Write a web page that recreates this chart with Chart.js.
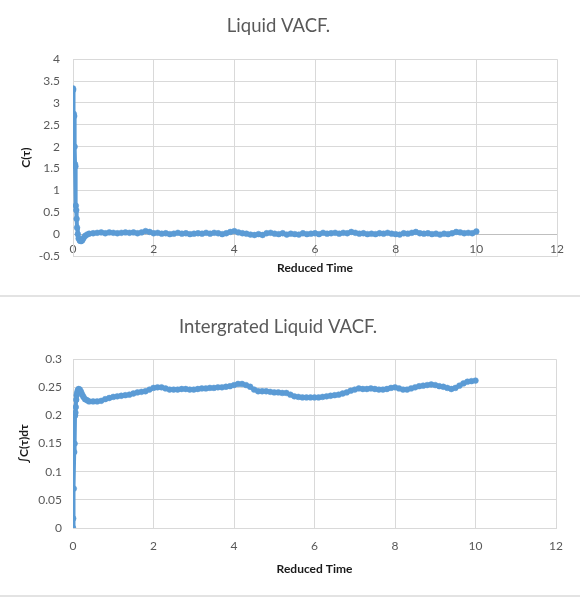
<!DOCTYPE html>
<html>
<head>
<meta charset="utf-8">
<title>Liquid VACF</title>
<script src="https://cdn.jsdelivr.net/npm/chart.js@4.4.1/dist/chart.umd.min.js"></script>
<style>
    body { margin: 0; background: #fff; width: 580px; height: 599px; overflow: hidden; }
    .box { width: 580px; border-bottom: 2px solid #e3e3e3; }
    #topBox { height: 295px; }
    #bottomBox { height: 298px; }
    canvas { display: block; }
</style>
</head>
<body>
<div class="box" id="topBox"><canvas id="vacfChart" width="580" height="295"></canvas></div>
<div class="box" id="bottomBox"><canvas id="integralChart" width="580" height="298"></canvas></div>

<script>
// reduced time (x) shared by both series
const times = [0, 0.005, 0.02, 0.03, 0.04, 0.05, 0.06, 0.07, 0.08, 0.09, 0.1, 0.12, 0.14, 0.17, 0.2, 0.23, 0.26, 0.3, 0.35, 0.4, 0.5,
    0.6, 0.7, 0.8, 0.9, 1.0, 1.1, 1.2, 1.3, 1.4, 1.5, 1.6, 1.7, 1.8, 1.9, 2.0,
    2.1, 2.2, 2.3, 2.4, 2.5, 2.6, 2.7, 2.8, 2.9, 3.0, 3.1, 3.2, 3.3, 3.4, 3.5,
    3.6, 3.7, 3.8, 3.9, 4.0, 4.1, 4.2, 4.3, 4.4, 4.5, 4.6, 4.7, 4.8, 4.9, 5.0,
    5.1, 5.2, 5.3, 5.4, 5.5, 5.6, 5.7, 5.8, 5.9, 6.0, 6.1, 6.2, 6.3, 6.4, 6.5,
    6.6, 6.7, 6.8, 6.9, 7.0, 7.1, 7.2, 7.3, 7.4, 7.5, 7.6, 7.7, 7.8, 7.9, 8.0,
    8.1, 8.2, 8.3, 8.4, 8.5, 8.6, 8.7, 8.8, 8.9, 9.0, 9.1, 9.2, 9.3, 9.4, 9.5,
    9.6, 9.7, 9.8, 9.9, 10.0];

// C(tau)
const vacf = [3.33, 3.30, 2.75, 2.70, 2.0, 1.60, 1.55, 0.65, 0.55, 0.35, 0.15, 0.0, -0.10, -0.15, -0.16, -0.14, -0.09, -0.04, -0.01, 0.01, 0.02,
    0.03, 0.04, 0.02, 0.04, 0.03, 0.02, 0.03, 0.04, 0.03, 0.04, 0.02, 0.04, 0.07, 0.05, 0.02,
    0.03, 0.01, 0.02, 0.00, 0.01, 0.03, 0.01, 0.02, 0.00, 0.01, 0.02, 0.01, 0.03, 0.01, 0.03,
    0.02, 0.00, 0.02, 0.05, 0.07, 0.04, 0.02, 0.01, -0.01, -0.02, 0.00, -0.02, 0.02, 0.03, 0.01,
    0.00, 0.02, -0.01, 0.01, 0.00, -0.01, 0.02, 0.00, 0.01, 0.02, 0.00, 0.03, 0.01, 0.02, 0.03,
    0.01, 0.03, 0.02, 0.05, 0.03, 0.01, 0.02, 0.00, 0.01, 0.00, 0.02, 0.01, 0.03, 0.01, 0.00,
    -0.01, 0.02, 0.01, 0.03, 0.05, 0.02, 0.01, 0.02, 0.00, 0.01, -0.01, 0.01, 0.00, 0.02, 0.05,
    0.04, 0.02, 0.03, 0.02, 0.06];

// integral of C(tau)
const integral = [0.0, 0.017, 0.07, 0.135, 0.15, 0.20, 0.205, 0.215, 0.228, 0.236, 0.24, 0.245, 0.247, 0.246, 0.242, 0.237, 0.233, 0.229, 0.227, 0.225, 0.225,
    0.225, 0.226, 0.229, 0.231, 0.233, 0.234, 0.235, 0.236, 0.237, 0.239, 0.241, 0.242, 0.243, 0.246, 0.249,
    0.250, 0.250, 0.248, 0.246, 0.246, 0.246, 0.247, 0.247, 0.246, 0.246, 0.247, 0.248, 0.248, 0.249, 0.249,
    0.250, 0.250, 0.251, 0.252, 0.254, 0.256, 0.256, 0.254, 0.251, 0.246, 0.243, 0.243, 0.243, 0.242, 0.241,
    0.241, 0.240, 0.240, 0.237, 0.234, 0.233, 0.232, 0.232, 0.232, 0.232, 0.232, 0.233, 0.234, 0.235, 0.236,
    0.237, 0.239, 0.241, 0.244, 0.246, 0.248, 0.247, 0.247, 0.248, 0.247, 0.246, 0.246, 0.247, 0.249, 0.250,
    0.248, 0.246, 0.246, 0.248, 0.250, 0.252, 0.253, 0.254, 0.255, 0.254, 0.252, 0.251, 0.249, 0.247, 0.249,
    0.253, 0.257, 0.260, 0.261, 0.262];

const timeTicks = ['0', '2', '4', '6', '8', '10', '12'];
const vacfTicks = ['-0.5', '0', '0.5', '1', '1.5', '2', '2.5', '3', '3.5', '4'];
const integralTicks = ['0', '0.05', '0.1', '0.15', '0.2', '0.25', '0.3'];

const blue = '#5B9BD5';
const gridColor = '#d9d9d9';
const tickColor = '#595959';
const fontName = 'Lato';

function points(ys) {
    return times.map(function(t, i) { return { x: t, y: ys[i] }; });
}

function tickSetter(labels) {
    return function(scale) {
        scale.ticks = labels.map(function(s) { return { value: parseFloat(s) }; });
    };
}

function dataset(ys) {
    return {
        data: points(ys),
        showLine: true,
        borderColor: blue,
        backgroundColor: blue,
        borderWidth: 4,
        pointRadius: 2.9,
        pointBorderWidth: 0.5,
        pointHoverRadius: 2.9
    };
}

function titleOpts(text, top, bottom) {
    return {
        display: true,
        text: text,
        color: tickColor,
        font: { family: fontName, size: 18.5, weight: 'normal' },
        padding: { top: top, bottom: bottom }
    };
}

// top chart: velocity autocorrelation
new Chart(document.getElementById('vacfChart'), {
    type: 'scatter',
    data: { datasets: [dataset(vacf)] },
    options: {
        responsive: false,
        animation: false,
        layout: { padding: { left: 0, right: 23, top: 0, bottom: 0 } },
        plugins: {
            legend: { display: false },
            tooltip: { enabled: false },
            title: titleOpts('Liquid VACF.', 15, 22)
        },
        scales: {
            x: {
                type: 'linear',
                min: 0,
                max: 12,
                afterBuildTicks: tickSetter(timeTicks),
                afterFit: function(scale) { scale.height = 39; },
                ticks: {
                    color: tickColor,
                    font: { family: fontName, size: 12 },
                    // mirrored: labels sit inside the plot, just under the zero line
                    mirror: true,
                    padding: 0,
                    maxRotation: 0,
                    callback: function(v, i) { return timeTicks[i]; }
                },
                grid: { color: gridColor, drawTicks: false },
                border: { color: gridColor },
                title: {
                    display: true,
                    text: 'Reduced Time',
                    color: '#1a1a1a',
                    font: { family: fontName, size: 12, weight: 'bold' },
                    padding: { top: 0, bottom: 20 }
                }
            },
            y: {
                min: -0.5,
                max: 4,
                afterBuildTicks: tickSetter(vacfTicks),
                afterFit: function(scale) { scale.width = 73; },
                ticks: {
                    color: tickColor,
                    font: { family: fontName, size: 12 },
                    padding: 13,
                    callback: function(v, i) { return vacfTicks[i]; }
                },
                grid: {
                    color: function(ctx) { return ctx.tick && ctx.tick.value === 0 ? '#bfbfbf' : gridColor; },
                    drawTicks: false
                },
                border: { color: gridColor },
                title: {
                    display: true,
                    text: 'C(τ)',
                    color: '#1a1a1a',
                    font: { family: fontName, size: 12, weight: 'bold' },
                    padding: { top: 19, bottom: 0 }
                }
            }
        }
    }
});

// bottom chart: running integral
new Chart(document.getElementById('integralChart'), {
    type: 'scatter',
    data: { datasets: [dataset(integral)] },
    options: {
        responsive: false,
        animation: false,
        layout: { padding: { left: 0, right: 24, top: 0, bottom: 0 } },
        plugins: {
            legend: { display: false },
            tooltip: { enabled: false },
            title: titleOpts('Intergrated Liquid VACF.', 19, 21)
        },
        scales: {
            x: {
                type: 'linear',
                min: 0,
                max: 12,
                afterBuildTicks: tickSetter(timeTicks),
                afterFit: function(scale) { scale.height = 67; },
                ticks: {
                    color: tickColor,
                    font: { family: fontName, size: 12 },
                    padding: 11,
                    maxRotation: 0,
                    callback: function(v, i) { return timeTicks[i]; }
                },
                grid: { color: gridColor, drawTicks: false },
                border: { color: gridColor },
                title: {
                    display: true,
                    text: 'Reduced Time',
                    color: '#1a1a1a',
                    font: { family: fontName, size: 12, weight: 'bold' },
                    padding: { top: 0, bottom: 19 }
                }
            },
            y: {
                min: 0,
                max: 0.3,
                afterBuildTicks: tickSetter(integralTicks),
                afterFit: function(scale) { scale.width = 73; },
                ticks: {
                    color: tickColor,
                    font: { family: fontName, size: 12 },
                    padding: 11,
                    callback: function(v, i) { return integralTicks[i]; }
                },
                grid: { color: gridColor, drawTicks: false },
                border: { color: gridColor },
                title: {
                    display: true,
                    text: '∫C(τ)dτ',
                    color: '#1a1a1a',
                    font: { family: fontName, size: 12, weight: 'bold' },
                    padding: { top: 17, bottom: 0 }
                }
            }
        }
    }
});
</script>
</body>
</html>
